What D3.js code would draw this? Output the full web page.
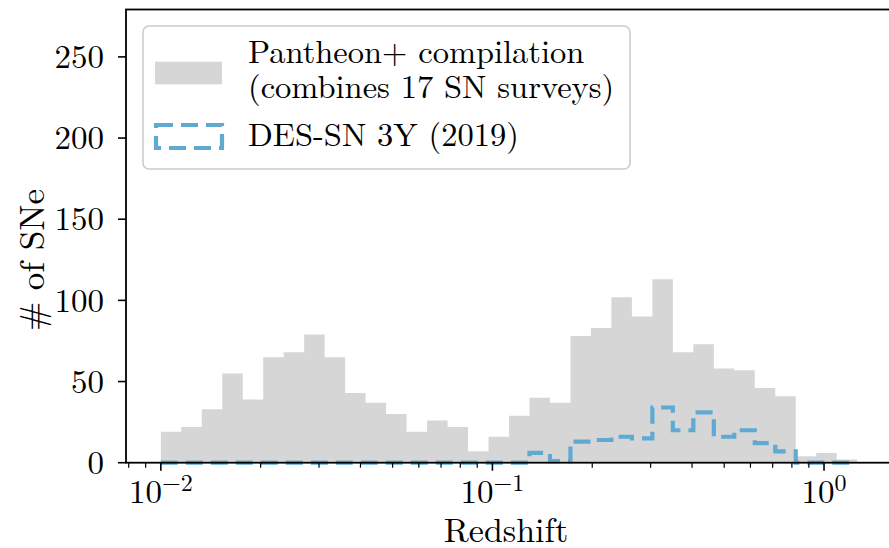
<!DOCTYPE html>
<html>
<head>
<meta charset="utf-8">
<script src="https://cdn.jsdelivr.net/npm/d3@7"></script>
<style>
  html, body { margin: 0; padding: 0; background: #ffffff; }
  svg { display: block; }
  text { font-family: "CMU Serif", "Latin Modern Roman", "Liberation Serif", serif; fill: #000; }
</style>
</head>
<body>
<svg id="chart" width="889" height="548"></svg>
<script>
// Histogram binning: 34 log-spaced bins from z = 0.01 to z = 10^0.1
const binLogStart = -2;
const binLogEnd = 0.1;
const binCount = 34;

// Counts per bin
const pantheonCounts = [19, 22, 33, 55, 39, 65, 68, 79, 65, 43, 37, 30, 19, 26, 22, 7, 16,
                        29, 40, 37, 78, 83, 102, 90, 113, 68, 73, 58, 57, 46, 41, 4, 6, 2];
const desCounts = [0, 0, 0, 0, 0, 0, 0, 0, 0, 0, 0, 0, 0, 0, 0, 0, 0,
                   0, 6, 1, 13, 14, 16, 15, 34, 20, 31, 16, 20, 12, 7, 0, 0, 0];

const yTicks = [0, 50, 100, 150, 200, 250];
const xMajorExps = [-2, -1, 0];
const seriesNames = ["Pantheon+ compilation", "(combines 17 SN surveys)", "DES-SN 3Y (2019)"];
const xLabel = "Redshift";
const yLabel = "# of SNe";

const edges = d3.range(binCount + 1).map(i => Math.pow(10, binLogStart + i * (binLogEnd - binLogStart) / binCount));

const svg = d3.select("#chart");
const plot = { left: 126, right: 892, top: 9.5, bottom: 462.7 };

const x = d3.scaleLog()
  .domain([Math.pow(10, -2.105), Math.pow(10, 0.205)])
  .range([plot.left, plot.right]);
const y = d3.scaleLinear()
  .domain([0, 279.2])
  .range([plot.bottom, plot.top]);

const greyFill = "#d6d6d6";
const desBlue = "#5eaad2";

// Pantheon+ histogram (filled steps)
const fillPts = pantheonCounts.map((c, i) => [edges[i], c]);
fillPts.push([edges[binCount], pantheonCounts[binCount - 1]]);
const area = d3.area()
  .x(d => x(d[0]))
  .y0(y(0))
  .y1(d => y(d[1]))
  .curve(d3.curveStepAfter);
svg.append("path")
  .attr("d", area(fillPts))
  .attr("fill", greyFill);

// DES-SN 3Y histogram (dashed outline)
const stepPts = [[edges[0], 0]];
desCounts.forEach((c, i) => stepPts.push([edges[i], c]));
stepPts.push([edges[binCount], desCounts[binCount - 1]]);
stepPts.push([edges[binCount], 0]);
const line = d3.line()
  .x(d => x(d[0]))
  .y(d => y(d[1]))
  .curve(d3.curveStepAfter);
svg.append("path")
  .attr("d", line(stepPts))
  .attr("fill", "none")
  .attr("stroke", desBlue)
  .attr("stroke-width", 4.2)
  .attr("stroke-dasharray", "17,8");

// Spines
svg.append("rect")
  .attr("x", plot.left).attr("y", plot.top)
  .attr("width", plot.right - plot.left).attr("height", plot.bottom - plot.top)
  .attr("fill", "none").attr("stroke", "#000").attr("stroke-width", 1.8);

// Y axis ticks and labels
const yAxis = svg.append("g");
yTicks.forEach(t => {
  yAxis.append("line")
    .attr("x1", plot.left - 8).attr("x2", plot.left)
    .attr("y1", y(t)).attr("y2", y(t))
    .attr("stroke", "#000").attr("stroke-width", 1.6);
  yAxis.append("text")
    .attr("x", plot.left - 22).attr("y", y(t) + 11.2)
    .attr("text-anchor", "end")
    .attr("font-size", 33)
    .text(t);
});

// X axis: major and minor log ticks
const xAxis = svg.append("g");
const [xd0, xd1] = x.domain();
for (let e = -3; e <= 1; e++) {
  for (let m = 1; m <= 9; m++) {
    const v = m * Math.pow(10, e);
    if (v < xd0 || v > xd1) continue;
    const major = m === 1;
    xAxis.append("line")
      .attr("x1", x(v)).attr("x2", x(v))
      .attr("y1", plot.bottom).attr("y2", plot.bottom + (major ? 8 : 5))
      .attr("stroke", "#000").attr("stroke-width", major ? 1.6 : 1.2);
  }
}
xMajorExps.forEach(e => {
  const t = xAxis.append("text")
    .attr("x", x(Math.pow(10, e)))
    .attr("y", 503)
    .attr("text-anchor", "middle")
    .attr("font-size", 33);
  t.append("tspan").text("10");
  t.append("tspan").attr("dy", -12).attr("font-size", 24).text(e < 0 ? "\u2212" + Math.abs(e) : String(e));
});

// Axis titles
svg.append("text")
  .attr("x", 506)
  .attr("y", 542)
  .attr("text-anchor", "middle")
  .attr("font-size", 34)
  .text(xLabel);
svg.append("text")
  .attr("transform", `translate(44, 260) rotate(-90)`)
  .attr("text-anchor", "middle")
  .attr("font-size", 35)
  .text(yLabel);

// Legend
const lg = svg.append("g");
lg.append("rect")
  .attr("x", 143).attr("y", 26)
  .attr("width", 487).attr("height", 143)
  .attr("rx", 6).attr("ry", 6)
  .attr("fill", "#ffffff").attr("fill-opacity", 0.8)
  .attr("stroke", "#cccccc").attr("stroke-width", 1.6);
lg.append("rect")
  .attr("x", 155).attr("y", 61.7)
  .attr("width", 67).attr("height", 22.6)
  .attr("fill", greyFill);
lg.append("rect")
  .attr("x", 156).attr("y", 125)
  .attr("width", 66).attr("height", 23)
  .attr("fill", "none")
  .attr("stroke", desBlue).attr("stroke-width", 4.2)
  .attr("stroke-dasharray", "17,8");
const legendBaselines = [62.7, 98.3, 146];
seriesNames.forEach((s, i) => {
  lg.append("text")
    .attr("x", 248).attr("y", legendBaselines[i])
    .attr("font-size", 32.5)
    .text(s);
});
</script>
</body>
</html>
